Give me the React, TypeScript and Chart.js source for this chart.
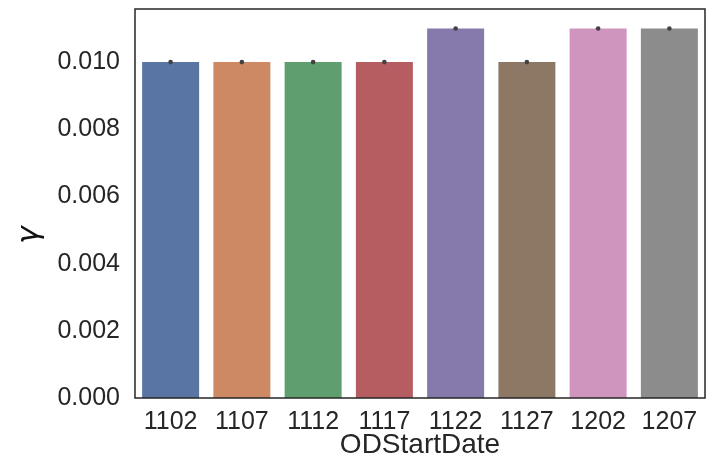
import React, { useEffect, useRef } from "react";
import { Chart, registerables } from "chart.js";

Chart.register(...registerables);

const categories = ["1102", "1107", "1112", "1117", "1122", "1127", "1202", "1207"];
const gammaValues = [0.01, 0.01, 0.01, 0.01, 0.011, 0.01, 0.011, 0.011];
const barColors = ["#5975a4", "#cc8963", "#5f9e6e", "#b55d60", "#857aab", "#8d7866", "#d095bf", "#8c8c8c"];
const yTicks = [0, 0.002, 0.004, 0.006, 0.008, 0.01];
const xTitle = "ODStartDate";
const yTitle = "γ";

const FONT = "'Liberation Sans', Arial, sans-serif";
const INK = "#262626";

const framePlugin = {
  id: "frame",
  afterDatasetsDraw(chart: any) {
    const { ctx, chartArea } = chart;
    ctx.save();
    ctx.strokeStyle = INK;
    ctx.lineWidth = 1.5;
    ctx.strokeRect(chartArea.left, chartArea.top, chartArea.right - chartArea.left, chartArea.bottom - chartArea.top);
    ctx.restore();
  },
};

const yTitlePlugin = {
  id: "yTitle",
  afterDraw(chart: any) {
    const { ctx } = chart;
    ctx.save();
    ctx.translate(30, 235);
    ctx.rotate(-Math.PI / 2);
    ctx.fillStyle = "#111";
    ctx.font = "italic 30px 'DejaVu Sans', sans-serif";
    ctx.textAlign = "center";
    ctx.textBaseline = "middle";
    ctx.fillText(yTitle, 0, 0);
    ctx.restore();
  },
};

export default function App() {
  const ref = useRef<HTMLCanvasElement | null>(null);
  useEffect(() => {
    if (!ref.current) return;
    const chart = new Chart(ref.current, {
      type: "bar",
      data: {
        labels: categories,
        datasets: [
          {
            type: "line" as any,
            data: gammaValues,
            showLine: false,
            pointRadius: 2.3,
            pointBackgroundColor: "#424242",
            pointBorderWidth: 0,
            borderColor: "#424242",
            order: 0,
          } as any,
          {
            type: "bar",
            data: gammaValues,
            backgroundColor: barColors,
            borderWidth: 0,
            barPercentage: 0.8,
            categoryPercentage: 1.0,
            order: 1,
          },
        ],
      },
      options: {
        animation: false,
        responsive: false,
        maintainAspectRatio: false,
        layout: { padding: { top: 9, right: 1, left: 0, bottom: 0 } },
        plugins: { legend: { display: false }, tooltip: { enabled: false } },
        scales: {
          x: {
            offset: true,
            grid: { display: false, drawTicks: false },
            border: { display: false },
            ticks: { color: INK, font: { family: FONT, size: 25 }, padding: 9, maxRotation: 0 },
            title: { display: true, text: xTitle, color: INK, font: { family: FONT, size: 28 }, padding: { top: -7, bottom: 0 } },
            afterFit: (s: any) => { s.height = 64; s.paddingLeft = 0; s.paddingRight = 0; },
          },
          y: {
            min: 0,
            max: 0.01158,
            grid: { display: false, drawTicks: false },
            border: { display: false },
            afterBuildTicks: (s: any) => { s.ticks = yTicks.map((v) => ({ value: v })); },
            ticks: {
              color: INK,
              font: { family: FONT, size: 25 },
              padding: 15,
              callback: (v: any) => Number(v).toFixed(3),
            },
            title: { display: false },
            afterFit: (s: any) => { s.width = 135; s.paddingTop = 0; s.paddingBottom = 0; },
          },
        },
      },
      plugins: [framePlugin, yTitlePlugin],
    });
    return () => chart.destroy();
  }, []);
  return (
    <div style={{ position: "fixed", left: 0, top: 0, width: 707, height: 462, overflow: "hidden", background: "#fff" }}>
      <canvas ref={ref} width={709} height={462} style={{ width: 709, height: 462, display: "block" }} />
    </div>
  );
}
